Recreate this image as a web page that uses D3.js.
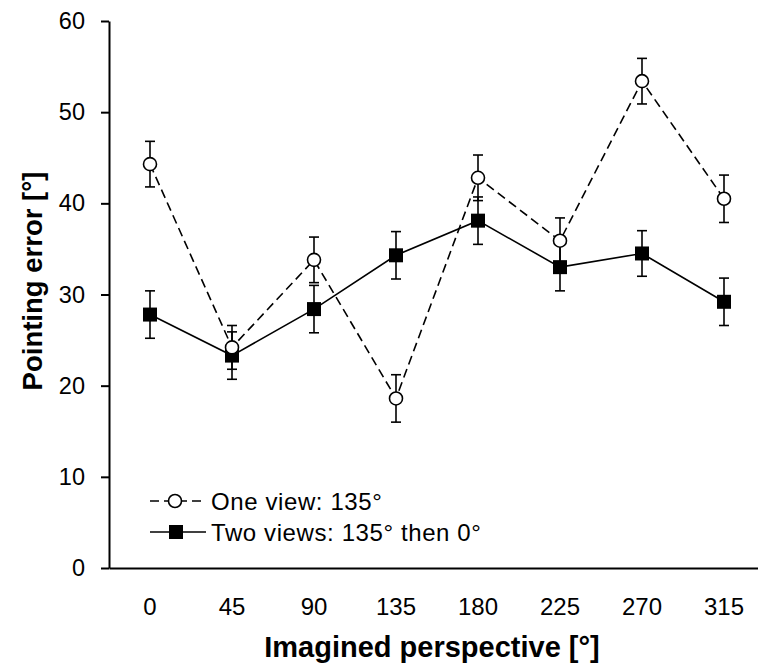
<!DOCTYPE html>
<html>
<head>
<meta charset="utf-8">
<script src="https://cdn.jsdelivr.net/npm/d3@7/dist/d3.min.js"></script>
<style>
  body { margin: 0; background: #fff; }
  svg text { font-family: "Liberation Sans", Arial, sans-serif; fill: #000; }
</style>
</head>
<body>
<svg id="chart" width="758" height="671"></svg>
<script>
// data
var perspectives = ["0", "45", "90", "135", "180", "225", "270", "315"];
var oneView      = [44.3, 24.2, 33.8, 18.6, 42.8, 35.9, 53.4, 40.5];
var oneViewErr   = [2.5, 2.4, 2.5, 2.6, 2.5, 2.5, 2.5, 2.6];
var twoViews     = [27.8, 23.3, 28.4, 34.3, 38.1, 33.0, 34.5, 29.2];
var twoViewsErr  = [2.6, 2.6, 2.6, 2.6, 2.6, 2.6, 2.5, 2.6];
var yTicks       = [0, 10, 20, 30, 40, 50, 60];
var legendLabels = ["One view: 135\u00b0", "Two views: 135\u00b0  then 0\u00b0"];

const svg    = d3.select("#chart"),
      margin = {top: 21, right: 0, bottom: 103, left: 109},
      width  = 656,
      height = 547,
      x      = d3.scaleBand().domain(perspectives).range([0, width]),
      y      = d3.scaleLinear().domain([0, 60]).range([height, 0]),
      g      = svg.append("g")
                  .attr("transform", `translate(${margin.left},${margin.top})`);

function cx(d, i) { return x(perspectives[i]) + x.bandwidth() / 2; }

// axes
const yAxis = g.append("g")
    .call(d3.axisLeft(y).tickValues(yTicks).tickSizeInner(8).tickSizeOuter(0).tickPadding(16));
yAxis.selectAll("text").style("font-size", "23.5px");
yAxis.selectAll("line, path").attr("stroke", "#000").attr("stroke-width", 2);

const xAxis = g.append("g")
    .attr("transform", `translate(0,${height})`)
    .call(d3.axisBottom(x).tickSize(0).tickPadding(30));
xAxis.selectAll("text").style("font-size", "24px");
xAxis.select(".domain").attr("stroke", "#000").attr("stroke-width", 2);

// axis titles
svg.append("text")
    .attr("x", 432).attr("y", 657)
    .attr("text-anchor", "middle")
    .style("font-size", "29px").style("font-weight", "bold")
    .text("Imagined perspective [\u00b0]");

svg.append("text")
    .attr("transform", "translate(42,281) rotate(-90)")
    .attr("text-anchor", "middle")
    .style("font-size", "27.5px").style("font-weight", "bold")
    .text("Pointing error [\u00b0]");

function errorBars(vals, errs, cls) {
  const eg = g.append("g").attr("class", cls);
  vals.forEach(function(v, i) {
    const xc = cx(v, i), top = y(v + errs[i]), bot = y(v - errs[i]);
    eg.append("line").attr("x1", xc).attr("x2", xc).attr("y1", top).attr("y2", bot)
      .attr("stroke", "#000").attr("stroke-width", 1.6);
    [top, bot].forEach(function(yy) {
      eg.append("line").attr("x1", xc - 5).attr("x2", xc + 5).attr("y1", yy).attr("y2", yy)
        .attr("stroke", "#000").attr("stroke-width", 1.6);
    });
  });
}

const line = d3.line().x(cx).y(d => y(d));

// two views: solid line, filled squares
errorBars(twoViews, twoViewsErr, "err-two");
g.append("path").datum(twoViews)
    .attr("d", line).attr("fill", "none")
    .attr("stroke", "#000").attr("stroke-width", 1.6);

// one view: dashed line, open circles
errorBars(oneView, oneViewErr, "err-one");
g.append("path").datum(oneView)
    .attr("d", line).attr("fill", "none")
    .attr("stroke", "#000").attr("stroke-width", 1.6)
    .attr("stroke-dasharray", "9,5");

g.selectAll(".sq").data(twoViews).enter().append("rect")
    .attr("class", "sq")
    .attr("x", (d, i) => cx(d, i) - 7).attr("y", d => y(d) - 7)
    .attr("width", 14).attr("height", 14)
    .attr("fill", "#000");

g.selectAll(".dot").data(oneView).enter().append("circle")
    .attr("class", "dot")
    .attr("cx", cx).attr("cy", d => y(d)).attr("r", 6.5)
    .attr("fill", "#fff").attr("stroke", "#000").attr("stroke-width", 1.6);

// legend
const lg = svg.append("g").attr("transform", "translate(150,501)");
lg.append("line").attr("x1", 0).attr("x2", 56).attr("y1", 0).attr("y2", 0)
    .attr("stroke", "#000").attr("stroke-width", 1.6).attr("stroke-dasharray", "9,5");
lg.append("circle").attr("cx", 25).attr("cy", 0).attr("r", 6.5)
    .attr("fill", "#fff").attr("stroke", "#000").attr("stroke-width", 1.6);
lg.append("line").attr("x1", 0).attr("x2", 56).attr("y1", 31).attr("y2", 31)
    .attr("stroke", "#000").attr("stroke-width", 1.6);
lg.append("rect").attr("x", 19).attr("y", 24).attr("width", 14).attr("height", 14)
    .attr("fill", "#000");
lg.selectAll(".ltxt").data(legendLabels).enter().append("text")
    .attr("class", "ltxt")
    .attr("x", 61).attr("y", (d, i) => i * 31 + 9)
    .style("font-size", "24px")
    .style("letter-spacing", "0.6px")
    .text(d => d);
</script>
</body>
</html>
